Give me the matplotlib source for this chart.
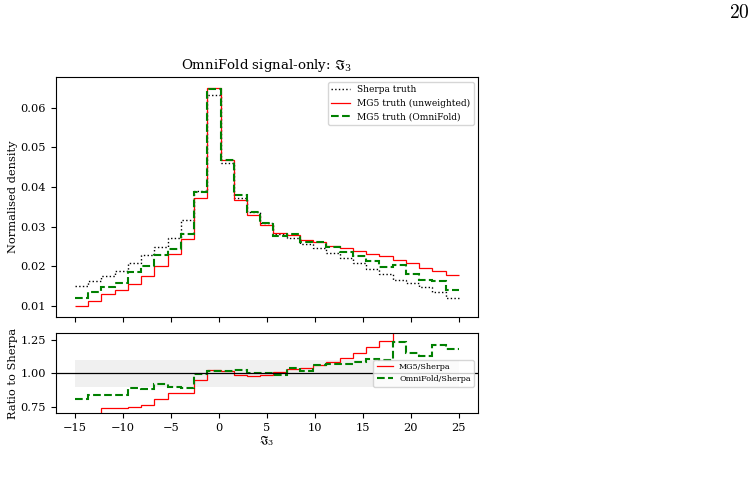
import numpy as np
import matplotlib
matplotlib.use("Agg")
import matplotlib.pyplot as plt

plt.rcParams['font.family'] = ['DejaVu Serif']
plt.rcParams['mathtext.fontset'] = 'dejavuserif'

edges = np.linspace(-15, 25, 30)

sherpa = [0.0149, 0.0163, 0.0176, 0.0188, 0.0208, 0.0228, 0.0248, 0.0270, 0.0317, 0.0390,
          0.0633, 0.0459, 0.0371, 0.0336, 0.0308, 0.0281, 0.0270, 0.0256, 0.0245, 0.0233,
          0.0220, 0.0208, 0.0192, 0.0181, 0.0164, 0.0157, 0.0147, 0.0134, 0.0119]
mg5 = [0.0100, 0.0111, 0.0130, 0.0139, 0.0155, 0.0174, 0.0200, 0.0231, 0.0269, 0.0371,
       0.0649, 0.0467, 0.0366, 0.0329, 0.0304, 0.0283, 0.0278, 0.0266, 0.0260, 0.0252,
       0.0245, 0.0239, 0.0230, 0.0225, 0.0216, 0.0209, 0.0195, 0.0189, 0.0177]
omnifold = [0.0120, 0.0136, 0.0147, 0.0158, 0.0185, 0.0201, 0.0228, 0.0243, 0.0281, 0.0387,
            0.0646, 0.0468, 0.0380, 0.0336, 0.0308, 0.0277, 0.0280, 0.0261, 0.0260, 0.0249,
            0.0235, 0.0225, 0.0213, 0.0199, 0.0203, 0.0181, 0.0166, 0.0162, 0.0141]

sherpa = np.array(sherpa)
mg5 = np.array(mg5)
omnifold = np.array(omnifold)

fig = plt.figure(figsize=(7.56, 4.78), dpi=100)
ax = fig.add_axes([0.0737, 0.3375, 0.5586, 0.5008])
rax = fig.add_axes([0.0737, 0.1354, 0.5586, 0.1674])

fs = 8.2
ax.stairs(sherpa, edges, baseline=None, color='black', linestyle=':', linewidth=1.0, label='Sherpa truth')
ax.stairs(mg5, edges, baseline=None, color='red', linestyle='-', linewidth=0.9, label='MG5 truth (unweighted)')
ax.stairs(omnifold, edges, baseline=None, color='green', linestyle='--', linewidth=1.5, label='MG5 truth (OmniFold)')
ax.set_xlim(-17, 27)
ax.set_ylabel('Normalised density', fontsize=fs, labelpad=2)
ax.set_title(r'OmniFold signal-only: $\mathfrak{I}_3$', fontsize=9.6)
ax.tick_params(labelsize=fs, labelbottom=False)
ax.set_yticks([0.01, 0.02, 0.03, 0.04, 0.05, 0.06])
ax.set_xticks([-15, -10, -5, 0, 5, 10, 15, 20, 25])
ax.legend(loc='upper right', fontsize=6.5)

rax.fill_between([-15, 25], 0.9, 1.1, color='#f0f0f0', linewidth=0)
rax.axhline(1.0, color='black', linewidth=0.9)
rax.stairs(mg5 / sherpa, edges, baseline=None, color='red', linewidth=0.9, label='MG5/Sherpa')
rax.stairs(omnifold / sherpa, edges, baseline=None, color='green', linestyle='--', linewidth=1.5, label='OmniFold/Sherpa')
rax.set_xlim(-17, 27)
rax.set_ylim(0.7, 1.3)
rax.set_yticks([0.75, 1.00, 1.25])
rax.set_xticks([-15, -10, -5, 0, 5, 10, 15, 20, 25])
rax.tick_params(labelsize=fs)
rax.set_ylabel('Ratio to Sherpa', fontsize=fs, labelpad=2)
rax.set_xlabel(r'$\mathfrak{I}_3$', fontsize=fs, labelpad=1)
rax.legend(loc='center right', fontsize=5.8)

fig.text(0.978, 0.972, r'$20$', fontsize=14, math_fontfamily='cm', ha='center', va='center')

fig.savefig('out.png', dpi=100)
